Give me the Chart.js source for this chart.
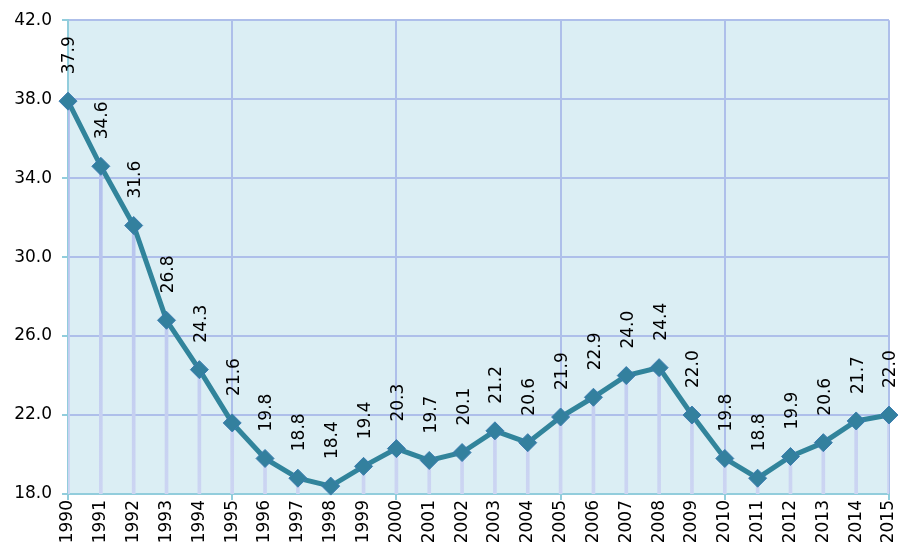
<!DOCTYPE html>
<html>
<head>
<meta charset="utf-8">
<script src="https://cdn.jsdelivr.net/npm/chart.js@4"></script>
<style>
  html, body { margin: 0; padding: 0; background: #fff; }
  #wrap { width: 899px; height: 554px; }
</style>
</head>
<body>
<div id="wrap"><canvas id="chart" width="899" height="554"></canvas></div>
<script>
// Data
const years = ['1990','1991','1992','1993','1994','1995','1996','1997','1998','1999','2000','2001','2002',
               '2003','2004','2005','2006','2007','2008','2009','2010','2011','2012','2013','2014','2015'];
const values = [37.9, 34.6, 31.6, 26.8, 24.3, 21.6, 19.8, 18.8, 18.4, 19.4, 20.3, 19.7, 20.1,
                21.2, 20.6, 21.9, 22.9, 24.0, 24.4, 22.0, 19.8, 18.8, 19.9, 20.6, 21.7, 22.0];
const yTicks = [18, 22, 26, 30, 34, 38, 42];

const FONT = 'DejaVu Sans, Verdana, sans-serif';
const lineColor = '#31849B';
const gridColor = '#AEBFEA';
const axisColor = '#92CDDC';

// plot background
const bgPlugin = {
    id: 'plotBg',
    beforeDraw(chart) {
        const a = chart.chartArea;
        const ctx = chart.ctx;
        ctx.save();
        ctx.fillStyle = '#DBEEF4';
        ctx.fillRect(a.left, a.top, a.right - a.left, a.bottom - a.top);
        ctx.restore();
    }
};

// rotated value labels above each point
const labelPlugin = {
    id: 'valueLabels',
    afterDatasetsDraw(chart) {
        const meta = chart.getDatasetMeta(1);
        const ctx = chart.ctx;
        ctx.save();
        ctx.font = '17px ' + FONT;
        ctx.fillStyle = '#000';
        ctx.textAlign = 'left';
        ctx.textBaseline = 'middle';
        meta.data.forEach((pt, i) => {
            ctx.save();
            ctx.translate(pt.x + 2, pt.y - 27);
            ctx.rotate(-Math.PI / 2);
            ctx.fillText(values[i].toFixed(1), 0, 0);
            ctx.restore();
        });
        ctx.restore();
    }
};

const ctx = document.getElementById('chart').getContext('2d');
const dropGrad = ctx.createLinearGradient(0, 18, 0, 494);
dropGrad.addColorStop(0, '#A6B6EA');
dropGrad.addColorStop(1, '#CCD5F2');

new Chart(ctx, {
    data: {
        labels: years,
        datasets: [{
            type: 'bar',
            data: values,
            backgroundColor: dropGrad,
            barThickness: 3,
            order: 2
        }, {
            type: 'line',
            data: values,
            borderColor: lineColor,
            borderWidth: 5,
            pointStyle: 'rectRot',
            pointRadius: 9,
            pointBackgroundColor: '#33809E',
            pointBorderColor: '#3C7CB0',
            pointBorderWidth: 1,
            tension: 0,
            clip: false,
            order: 1
        }]
    },
    options: {
        responsive: false,
        animation: false,
        layout: { padding: { top: 18, right: 10, left: 0, bottom: 0 } },
        plugins: {
            legend: { display: false },
            tooltip: { enabled: false }
        },
        scales: {
            x: {
                offset: false,
                grid: {
                    offset: false,
                    color: (c) => (c.index % 5 === 0 && c.index > 0 ? gridColor : 'rgba(0,0,0,0)'),
                    tickColor: (c) => (c.index % 5 === 0 ? axisColor : 'rgba(0,0,0,0)'),
                    tickLength: 6,
                    lineWidth: 2
                },
                border: { color: axisColor, width: 2 },
                ticks: {
                    color: '#000',
                    font: { family: FONT, size: 17 },
                    maxRotation: 90,
                    minRotation: 90,
                    autoSkip: false,
                    padding: 0
                },
                afterFit(s) { s.height = 60; s.paddingLeft = 0; s.paddingRight = 0; }
            },
            y: {
                min: 18,
                max: 42,
                afterBuildTicks(s) { s.ticks = yTicks.map(v => ({ value: v })); },
                grid: {
                    color: gridColor,
                    tickColor: axisColor,
                    tickLength: 6,
                    lineWidth: 2
                },
                border: { color: axisColor, width: 2 },
                ticks: {
                    color: '#000',
                    font: { family: FONT, size: 17 },
                    padding: 10,
                    callback: (v) => Number(v).toFixed(1)
                },
                afterFit(s) { s.width = 68; }
            }
        }
    },
    plugins: [bgPlugin, labelPlugin]
});
</script>
</body>
</html>
